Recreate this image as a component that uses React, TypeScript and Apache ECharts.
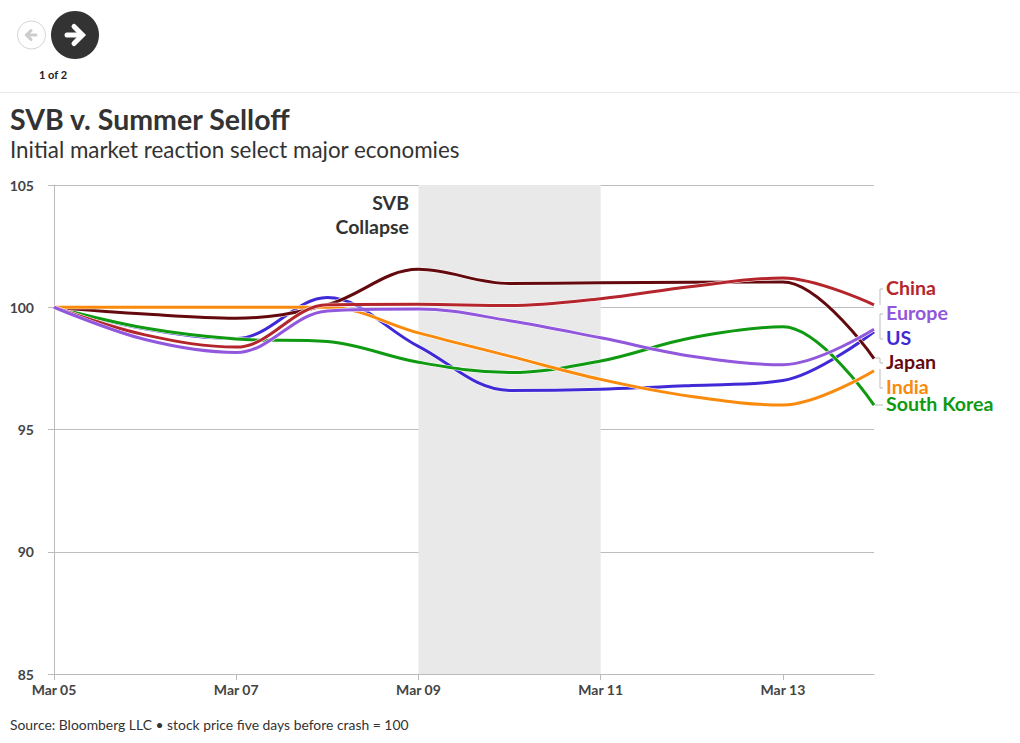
import React, { useEffect, useRef } from "react";
import * as echarts from "echarts";

const days = ["Mar 05", "Mar 06", "Mar 07", "Mar 08", "Mar 09", "Mar 10", "Mar 11", "Mar 12", "Mar 13", "Mar 14"];
const yTicks = [85, 90, 95, 100, 105];
const southKorea = [100, 99.15, 98.7, 98.6, 97.75, 97.33, 97.8, 98.75, 99.2, 96.0];
const us = [100, 99.12, 98.72, 100.4, 98.4, 96.6, 96.65, 96.8, 97.0, 99.0];
const japan = [100, 99.72, 99.55, 100.1, 101.55, 100.97, 101.0, 101.02, 101.03, 97.9];
const india = [100, 100, 100, 100, 98.95, 98.0, 97.05, 96.35, 96.0, 97.4];
const china = [100, 98.87, 98.37, 100.1, 100.12, 100.07, 100.35, 100.85, 101.2, 100.1];
const europe = [100, 98.68, 98.15, 99.85, 99.93, 99.45, 98.75, 98.0, 97.65, 99.1];

const seriesDefs = [
  { name: "US", color: "#3f2ad6", data: us, labelY: 337.5 },
  { name: "South Korea", color: "#0f9a12", data: southKorea, labelY: 403.5 },
  { name: "Japan", color: "#640a0e", data: japan, labelY: 361.5 },
  { name: "India", color: "#f98a0c", data: india, labelY: 386.5 },
  { name: "China", color: "#b4262c", data: china, labelY: 287.5 },
  { name: "Europe", color: "#9157dc", data: europe, labelY: 312.5 },
];
const leaders = [
  [[880, 305], [880, 289], [883, 289]],
  [[880, 329], [880, 314], [883, 314]],
  [[880, 329], [880, 339], [883, 339]],
  [[875, 358], [880, 358], [880, 363], [883, 363]],
  [[880, 369], [880, 388], [883, 388]],
  [[875, 405], [883, 405]],
];

const FONT = "Lato, 'Open Sans', sans-serif";

export default function App() {
  const ref = useRef<HTMLDivElement>(null);
  useEffect(() => {
    const chart = echarts.init(ref.current!, null, { renderer: "svg" });
    const ink = "#333333";
    const graphic: any[] = [
      { type: "circle", shape: { cx: 31.5, cy: 35, r: 14 }, style: { fill: "#fff", stroke: "#d4d4d4", lineWidth: 1 } },
      { type: "polyline", shape: { points: [[36, 35], [27, 35]] }, style: { stroke: "#cccccc", lineWidth: 3, fill: "none", lineCap: "round" } },
      { type: "polyline", shape: { points: [[31, 30.5], [26.5, 35], [31, 39.5]] }, style: { stroke: "#cccccc", lineWidth: 3, fill: "none", lineCap: "round" } },
      { type: "circle", shape: { cx: 75, cy: 35, r: 24 }, style: { fill: "#333333" } },
      { type: "polyline", shape: { points: [[67, 35], [82, 35]] }, style: { stroke: "#fff", lineWidth: 5, fill: "none", lineCap: "round" } },
      { type: "polyline", shape: { points: [[74, 26.5], [82.5, 35], [74, 43.5]] }, style: { stroke: "#fff", lineWidth: 5, fill: "none", lineCap: "round" } },
      { type: "text", style: { x: 53, y: 74, text: "1 of 2", fill: "#222", font: `700 11px ${FONT}`, textAlign: "center", textVerticalAlign: "middle" } },
      { type: "line", shape: { x1: 0, y1: 92.5, x2: 1020, y2: 92.5 }, style: { stroke: "#eaeaea", lineWidth: 1 } },
      { type: "text", style: { x: 10, y: 119, text: "SVB v. Summer Selloff", fill: ink, font: `700 28.5px ${FONT}`, textVerticalAlign: "middle" } },
      { type: "text", style: { x: 10, y: 149, text: "Initial market reaction select major economies", fill: ink, font: `400 22.4px ${FONT}`, textVerticalAlign: "middle" } },
      { type: "text", style: { x: 409, y: 202, text: "SVB", fill: ink, font: `700 19.5px ${FONT}`, textAlign: "right", textVerticalAlign: "middle" } },
      { type: "text", style: { x: 409, y: 226, text: "Collapse", fill: ink, font: `700 19.5px ${FONT}`, textAlign: "right", textVerticalAlign: "middle" } },
      { type: "text", style: { x: 10, y: 724, text: "Source: Bloomberg LLC • stock price five days before crash = 100", fill: ink, font: `400 13.9px ${FONT}`, textVerticalAlign: "middle" } },
      ...leaders.map((points) => ({ type: "polyline", shape: { points }, style: { stroke: "#bbbbbb", lineWidth: 1, fill: "none" } })),
      ...seriesDefs.map((s) => ({
        type: "text",
        style: { x: 886, y: s.labelY, text: s.name, fill: s.color, font: `700 19.6px ${FONT}`, textVerticalAlign: "middle" },
      })),
    ];
    const lines = seriesDefs.flatMap((s, i) => [
      {
        name: s.name + " halo",
        type: "line",
        data: s.data,
        smooth: 0.36,
        symbol: "none",
        z: 3 + i * 2,
        silent: true,
        lineStyle: { color: "#ffffff", width: 4, cap: "butt" },
        ...(i === 0
          ? {
              markArea: {
                silent: true,
                itemStyle: { color: "#e9e9e9" },
                data: [[{ xAxis: "Mar 09" }, { xAxis: "Mar 11" }]],
              },
            }
          : {}),
      },
      {
        name: s.name,
        type: "line",
        data: s.data,
        smooth: 0.36,
        symbol: "none",
        z: 4 + i * 2,
        lineStyle: { color: s.color, width: 3, cap: "butt" },
      },
    ]);
    chart.setOption({
      animation: false,
      backgroundColor: "#ffffff",
      grid: { left: 54, right: 146, top: 185, bottom: 69, containLabel: false },
      xAxis: {
        type: "category",
        data: days,
        boundaryGap: false,
        axisLine: { show: true, lineStyle: { color: "#bbbbbb", width: 1 } },
        axisTick: { show: true, interval: 1, length: 6, lineStyle: { color: "#bbbbbb" } },
        axisLabel: { interval: 1, color: "#444", fontFamily: FONT, fontWeight: 700, fontSize: 14, margin: 8 },
        splitLine: { show: false },
      },
      yAxis: {
        type: "value",
        min: 85,
        max: 105,
        interval: 5,
        axisLine: { show: true, lineStyle: { color: "#bbbbbb", width: 1 } },
        axisTick: { show: true, length: 6, lineStyle: { color: "#bbbbbb" } },
        axisLabel: { color: "#444", fontFamily: FONT, fontWeight: 700, fontSize: 14, margin: 20, formatter: (v: number) => (yTicks.includes(v) ? String(v) : "") },
        splitLine: { show: true, lineStyle: { color: "#bdbdbd", width: 1 } },
      },
      series: lines,
      graphic,
    });
    return () => chart.dispose();
  }, []);
  return <div ref={ref} style={{ position: "absolute", left: 0, top: 0, width: 1020, height: 743 }} />;
}
